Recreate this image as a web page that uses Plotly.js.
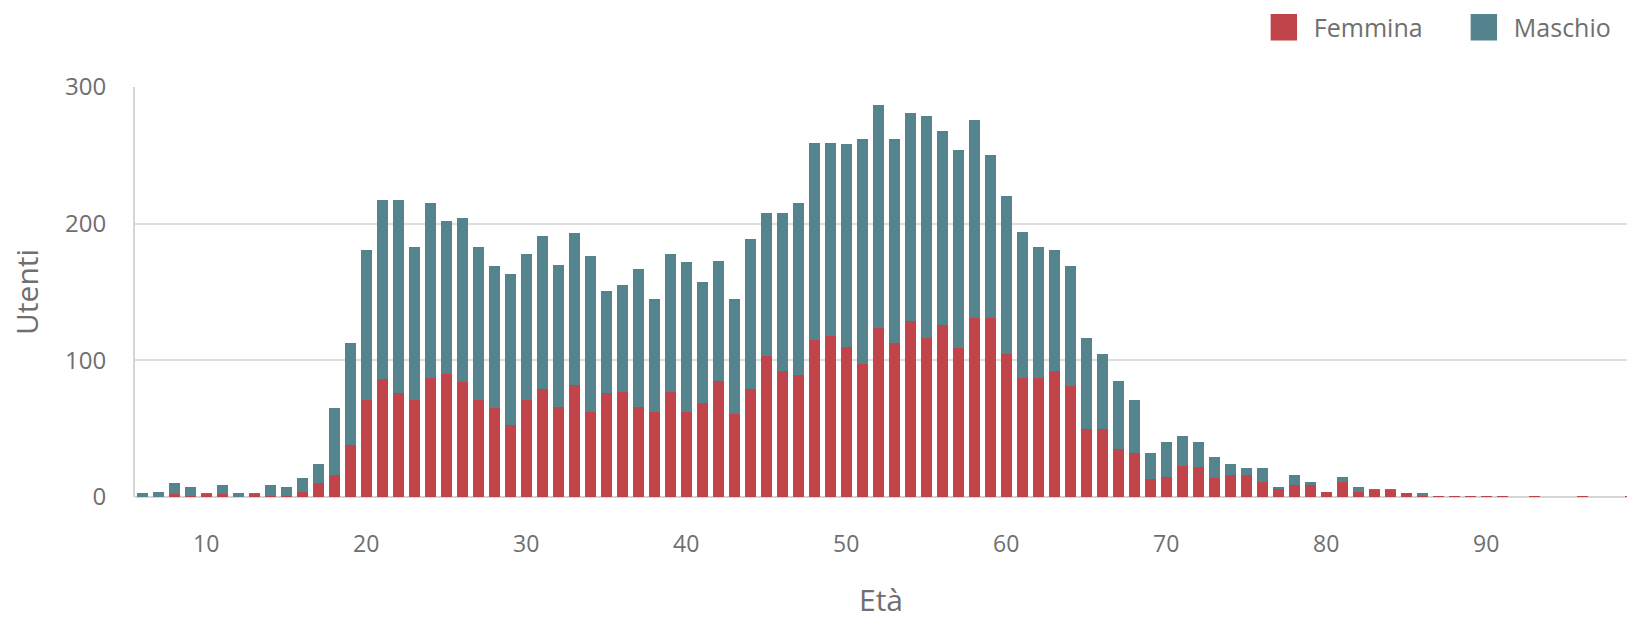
<!DOCTYPE html>
<html>
<head>
<meta charset="utf-8">
<script src="https://cdn.plot.ly/plotly-3.0.1.min.js"></script>
<style>html,body{margin:0;padding:0;background:#fff;}#chart{width:1627px;height:620px;}</style>
</head>
<body>
<div id="chart"></div>
<script>
const ages = [6,7,8,9,10,11,12,13,14,15,16,17,18,19,20,21,22,23,24,25,26,27,28,29,30,31,32,33,34,35,36,37,38,39,40,41,42,43,44,45,46,47,48,49,50,51,52,53,54,55,56,57,58,59,60,61,62,63,64,65,66,67,68,69,70,71,72,73,74,75,76,77,78,79,80,81,82,83,84,85,86,87,88,89,90,91,92,93,94,95,96,97,98,99];
const femmina = [0,0,2,1,2,2,0,2,1,1,4,10,16,38,71,86,76,71,87,90,84,71,65,53,71,79,66,82,62,76,77,66,62,77,62,69,85,61,79,103,92,89,115,118,110,97,124,113,129,116,126,109,131,131,105,87,87,92,81,50,50,35,32,13,15,23,22,14,16,16,11,6,9,9,4,11,4,5,5,3,1,1,1,1,1,1,0,1,0,0,1,0,0,1];
const maschio = [3,4,8,6,1,7,3,1,8,6,10,14,49,75,110,131,141,112,128,112,120,112,104,110,107,112,104,111,114,75,78,101,83,101,110,88,88,84,110,105,116,126,144,141,148,165,163,149,152,163,142,145,145,119,115,107,96,89,88,66,55,50,39,19,25,22,18,15,8,5,10,1,7,2,0,4,3,1,1,0,2,0,0,0,0,0,0,0,0,0,0,0,0,0];
const xTicks = [10,20,30,40,50,60,70,80,90];
const yTicks = [0,100,200,300];

const FONT = '"Open Sans", "Noto Sans", sans-serif';
const RED = '#c1444b';
const TEAL = '#55848f';

const data = [
  {type:'bar', name:'Femmina', x:ages, y:femmina, marker:{color:RED}, hoverinfo:'x+y+name'},
  {type:'bar', name:'Maschio', x:ages, y:maschio, marker:{color:TEAL}, hoverinfo:'x+y+name'}
];

const layout = {
  width:1627, height:620,
  margin:{l:135, r:0, t:87, b:123, autoexpand:false},
  barmode:'stack', bargap:0.3,
  paper_bgcolor:'#ffffff', plot_bgcolor:'#ffffff',
  font:{family:FONT, color:'#6f6f6f', size:23},
  showlegend:true,
  legend:{orientation:'h', xanchor:'right', x:1.018, yanchor:'middle', y:1.145,
          font:{family:FONT, size:25, color:'#6f6f6f'}, itemwidth:50, entrywidth:135, traceorder:'normal',
          bgcolor:'rgba(0,0,0,0)'},
  xaxis:{range:[5.55, 98.8], tickmode:'array', tickvals:xTicks, ticktext:xTicks.map(String),
         showgrid:false, zeroline:false, showline:false, ticks:'', ticklabelstandoff:31,
         tickfont:{size:23, color:'#6f6f6f'}, automargin:false,
         title:{text:'Età', font:{size:30, color:'#6f6f6f'}, standoff:37}, fixedrange:true},
  yaxis:{range:[0,300], tickmode:'array', tickvals:yTicks, ticktext:yTicks.map(String),
         showgrid:true, gridcolor:'#dedede', gridwidth:2, zeroline:true, zerolinecolor:'#d6d6d6', zerolinewidth:2,
         showline:true, linecolor:'#d6d6d6', linewidth:2, ticks:'', ticklabelstandoff:22,
         tickfont:{size:24, color:'#6f6f6f'}, automargin:false,
         title:{text:'Utenti', font:{size:30, color:'#6f6f6f'}, standoff:18}, fixedrange:true}
};

Plotly.newPlot('chart', data, layout, {displayModeBar:false, staticPlot:true}).then(function(gd){
  const pts = gd.querySelectorAll('.legend .legendpoints path');
  pts.forEach(function(p){
    const t = p.getAttribute('transform') || '';
    p.setAttribute('transform', t + ' scale(2.2)');
    p.style.strokeWidth = '0';
  });
});
</script>
</body>
</html>
